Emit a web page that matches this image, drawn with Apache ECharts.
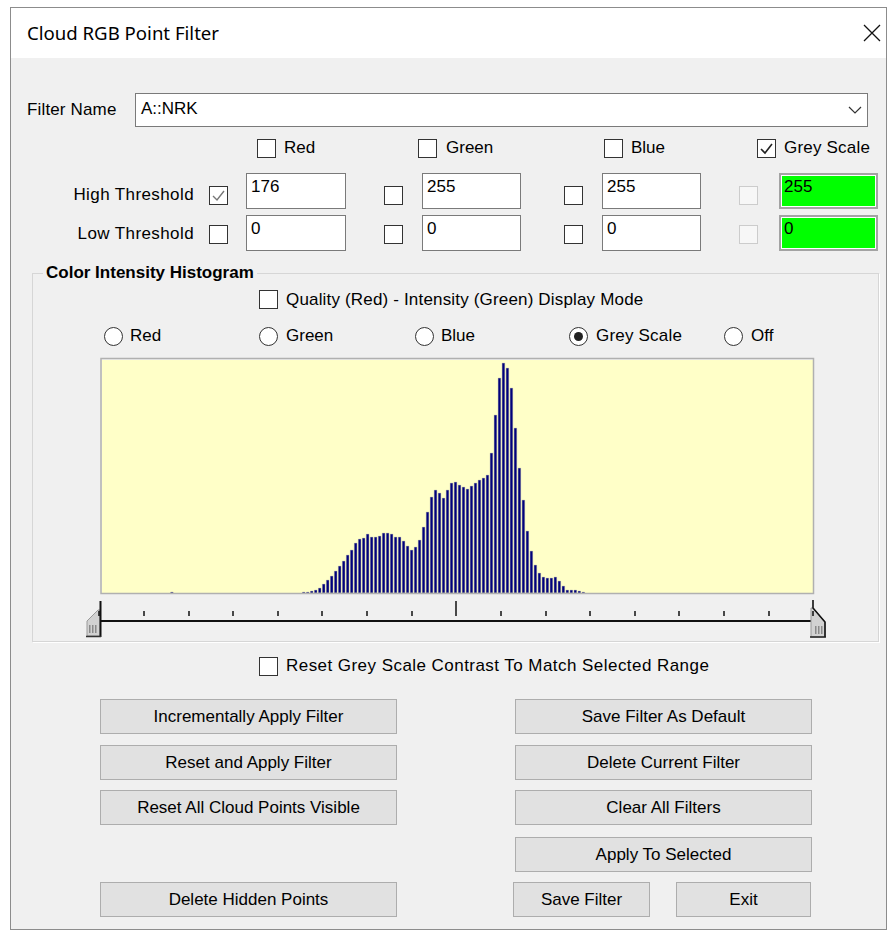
<!DOCTYPE html>
<html><head><meta charset="utf-8">
<script src="https://cdn.jsdelivr.net/npm/echarts/dist/echarts.min.js"></script>
<style>
html,body{margin:0;padding:0}
body{width:894px;height:934px;background:#fff;position:relative;overflow:hidden;font-family:'Liberation Sans',Arial,sans-serif;font-size:17px;color:#000}
.a{position:absolute;white-space:nowrap;line-height:20px}
.cb{position:absolute;width:17px;height:17px;border:1px solid #333;background:#fff}
.cb.dis{border-color:#ccc;background:#f7f7f7}
.cb svg{position:absolute;left:1px;top:1px}
.rd{position:absolute;width:17px;height:17px;border:1px solid #333;border-radius:50%;background:#fff}
.rd.on::after{content:'';position:absolute;left:4px;top:4px;width:9px;height:9px;border-radius:50%;background:#222}
.tb{position:absolute;height:34px;border:1px solid #7a7a7a;background:#fff;box-sizing:content-box}
.tb span{position:absolute;left:4px;top:3px;line-height:20px}
.tb.g{background:#00ff00;border:2px solid #a3a3a3;box-shadow:inset 0 0 0 1px #fff;height:32px}
.btn{position:absolute;background:#e1e1e1;border:1px solid #adadad;text-align:center;box-sizing:border-box;height:35px;line-height:33px}
#chart{position:absolute;left:0;top:0;width:894px;height:934px;z-index:5;pointer-events:none}
</style></head>
<body>
<div class="a" style="left:10px;top:7px;width:877px;height:923px;border:1px solid #8c8c8c;background:#f0f0f0;box-sizing:border-box"></div>
<div class="a" style="left:11px;top:8px;width:875px;height:50px;background:#fff"></div>
<div class="a" style="left:27px;top:21px;font-family:'Noto Sans',sans-serif;font-size:18.6px;line-height:24px">Cloud RGB Point Filter</div>
<svg class="a" style="left:863px;top:24px" width="18" height="18"><path d="M1 1L17 17M17 1L1 17" stroke="#111" stroke-width="1.3"/></svg>

<div class="a" style="left:27px;top:100px;letter-spacing:0.15px">Filter Name</div>
<div class="tb" style="left:135px;top:93px;width:731px;height:32px"><span style="left:5px;top:5px">A::NRK</span></div>
<svg class="a" style="left:848px;top:105px" width="14" height="10"><path d="M1 2L7 8L13 2" fill="none" stroke="#333" stroke-width="1.2"/></svg>

<div class="cb" style="left:257px;top:139px"></div><div class="a" style="left:284px;top:138px">Red</div>
<div class="cb" style="left:418px;top:139px"></div><div class="a" style="left:446px;top:138px">Green</div>
<div class="cb" style="left:604px;top:139px"></div><div class="a" style="left:631px;top:138px">Blue</div>
<div class="cb" style="left:757px;top:139px"><svg width="15" height="15"><path d="M2 8L6 12L13 3" fill="none" stroke="#222" stroke-width="1.6"/></svg></div><div class="a" style="left:784px;top:138px;letter-spacing:0.2px">Grey Scale</div>

<div class="a" style="left:44px;top:185px;width:150px;text-align:right;letter-spacing:0.4px">High Threshold</div>
<div class="a" style="left:44px;top:224px;width:150px;text-align:right;letter-spacing:0.4px">Low Threshold</div>

<div class="cb" style="left:209px;top:186px"><svg width="15" height="15"><path d="M2 8L6 12L13 3" fill="none" stroke="#777" stroke-width="1.4"/></svg></div>
<div class="cb" style="left:384px;top:186px"></div>
<div class="cb" style="left:564px;top:186px"></div>
<div class="cb dis" style="left:739px;top:186px"></div>
<div class="cb" style="left:209px;top:225px"></div>
<div class="cb" style="left:384px;top:225px"></div>
<div class="cb" style="left:564px;top:225px"></div>
<div class="cb dis" style="left:739px;top:225px"></div>

<div class="tb" style="left:246px;top:173px;width:98px"><span>176</span></div>
<div class="tb" style="left:422px;top:173px;width:97px"><span>255</span></div>
<div class="tb" style="left:602px;top:173px;width:97px"><span>255</span></div>
<div class="tb g" style="left:779px;top:173px;width:95px"><span style="left:3px;top:2px">255</span></div>
<div class="tb" style="left:246px;top:215px;width:98px"><span>0</span></div>
<div class="tb" style="left:422px;top:215px;width:97px"><span>0</span></div>
<div class="tb" style="left:602px;top:215px;width:97px"><span>0</span></div>
<div class="tb g" style="left:779px;top:215px;width:95px"><span style="left:3px;top:2px">0</span></div>

<div class="a" style="left:32px;top:273px;width:845px;height:367px;border:1px solid #d6d6d6;box-shadow:1px 1px 0 #fff"></div>
<div class="a" style="left:43px;top:263px;padding:0 3px;background:#f0f0f0;font-weight:bold">Color Intensity Histogram</div>

<div class="cb" style="left:259px;top:290px"></div><div class="a" style="left:286px;top:290px;letter-spacing:0.17px">Quality (Red) - Intensity (Green) Display Mode</div>

<div class="rd" style="left:104px;top:327px"></div><div class="a" style="left:130px;top:326px">Red</div>
<div class="rd" style="left:259px;top:327px"></div><div class="a" style="left:286px;top:326px">Green</div>
<div class="rd" style="left:415px;top:327px"></div><div class="a" style="left:441px;top:326px">Blue</div>
<div class="rd on" style="left:569px;top:327px"></div><div class="a" style="left:596px;top:326px;letter-spacing:0.2px">Grey Scale</div>
<div class="rd" style="left:724px;top:327px"></div><div class="a" style="left:751px;top:326px">Off</div>

<div class="cb" style="left:259px;top:657px"></div><div class="a" style="left:286px;top:656px;letter-spacing:0.45px">Reset Grey Scale Contrast To Match Selected Range</div>

<div class="btn" style="left:100px;top:699px;width:297px">Incrementally Apply Filter</div>
<div class="btn" style="left:100px;top:745px;width:297px">Reset and Apply Filter</div>
<div class="btn" style="left:100px;top:790px;width:297px">Reset All Cloud Points Visible</div>
<div class="btn" style="left:100px;top:882px;width:297px">Delete Hidden Points</div>
<div class="btn" style="left:515px;top:699px;width:297px">Save Filter As Default</div>
<div class="btn" style="left:515px;top:745px;width:297px">Delete Current Filter</div>
<div class="btn" style="left:515px;top:790px;width:297px">Clear All Filters</div>
<div class="btn" style="left:515px;top:837px;width:297px">Apply To Selected</div>
<div class="btn" style="left:513px;top:882px;width:137px">Save Filter</div>
<div class="btn" style="left:676px;top:882px;width:135px">Exit</div>

<div id="chart"></div>
<script>
// Histogram bins (display bins across the plot width)
const binTotal = 178;
// isolated low-intensity bin
const isolatedBins = [17];
const isolatedCounts = [1];
// main body of the histogram: first bin index and consecutive counts
const bodyStartBin = 50;
const bodyCounts = [
  1,1,2,3,5,9,13,17,22,27,
  32,38,43,50,54,55,59,56,56,57,
  60,60,59,56,56,52,47,43,46,53,
  66,81,96,103,100,95,103,110,111,108,
  106,104,107,110,113,115,118,140,178,215,
  230,225,205,165,125,93,62,42,28,20,
  16,15,15,16,12,7,3,3,3,2,
  1
];
const countMax = 233;
// slider scale (grey level) ticks
const scaleMin = 0, scaleMax = 256, scaleStep = 16, scaleMid = 128;

const binLabels = [];
const histData = [];
for (let i = 0; i < binTotal; i++) { binLabels.push(String(i)); histData.push(null); }
isolatedBins.forEach((b, i) => { histData[b] = isolatedCounts[i]; });
bodyCounts.forEach((c, i) => { histData[bodyStartBin + i] = c; });

const chart = echarts.init(document.getElementById('chart'), null, {renderer: 'canvas', width: 894, height: 934});
chart.setOption({
  animation: false,
  grid: [
    {left: 102, top: 360, width: 711, height: 233, show: true, backgroundColor: '#FFFFC8', borderWidth: 0},
    {left: 99, top: 601, width: 714, height: 10, show: false}
  ],
  xAxis: [
    {type: 'category', gridIndex: 0, data: binLabels, show: false, boundaryGap: true},
    {type: 'value', gridIndex: 1, min: scaleMin, max: scaleMax, interval: scaleStep, position: 'top',
     axisLine: {show: false}, axisLabel: {show: false}, splitLine: {show: false},
     axisTick: {show: true, inside: true, length: 5, lineStyle: {color: '#111', width: 1.5}}}
  ],
  yAxis: [
    {type: 'value', gridIndex: 0, min: 0, max: countMax, show: false},
    {type: 'value', gridIndex: 1, min: 0, max: 1, show: false}
  ],
  series: [{
    type: 'bar', xAxisIndex: 0, yAxisIndex: 0, data: histData, barWidth: 2.8, silent: true,
    itemStyle: {color: '#00007c', borderColor: '#7a7a9a', borderWidth: 0.3}
  }]
});

const midX = chart.convertToPixel({xAxisIndex: 1}, scaleMid);
const x0 = chart.convertToPixel({xAxisIndex: 1}, scaleMin);
const x1 = chart.convertToPixel({xAxisIndex: 1}, scaleMax);
chart.setOption({
  graphic: [
    {type: 'rect', shape: {x: 101, y: 358.5, width: 712.5, height: 235}, style: {fill: 'none', stroke: '#b0b0b0', lineWidth: 1.5}, z: 10},
    {type: 'line', shape: {x1: midX, y1: 601, x2: midX, y2: 611}, style: {stroke: '#111', lineWidth: 1.5}},
    {type: 'line', shape: {x1: x0 + 1, y1: 621, x2: x1, y2: 621}, style: {stroke: '#111', lineWidth: 2}},
    // left thumb
    {type: 'polygon', shape: {points: [[87, 621], [98, 610], [100, 610], [100, 636], [87, 636]]}, style: {fill: '#d2d2d2', stroke: '#9a9a9a', lineWidth: 1}},
    {type: 'line', shape: {x1: 100.5, y1: 601, x2: 100.5, y2: 637}, style: {stroke: '#111', lineWidth: 2}},
    {type: 'line', shape: {x1: 86, y1: 636.5, x2: 101, y2: 636.5}, style: {stroke: '#333', lineWidth: 1.5}},
    {type: 'rect', shape: {x: 89, y: 625, width: 1.5, height: 8}, style: {fill: '#8a8a8a'}},
    {type: 'rect', shape: {x: 92, y: 625, width: 1.5, height: 8}, style: {fill: '#8a8a8a'}},
    {type: 'rect', shape: {x: 95, y: 625, width: 1.5, height: 8}, style: {fill: '#8a8a8a'}},
    // right thumb
    {type: 'polygon', shape: {points: [[811, 608], [813, 608], [825, 622], [825, 637], [811, 637]]}, style: {fill: '#d2d2d2', stroke: '#9a9a9a', lineWidth: 1}},
    {type: 'polyline', shape: {points: [[813, 600], [813, 608], [825, 622], [825, 637]]}, style: {stroke: '#111', lineWidth: 1.6, fill: 'none'}},
    {type: 'line', shape: {x1: 810, y1: 637, x2: 826, y2: 637}, style: {stroke: '#222', lineWidth: 1.5}},
    {type: 'rect', shape: {x: 815, y: 626, width: 1.5, height: 8}, style: {fill: '#8a8a8a'}},
    {type: 'rect', shape: {x: 818, y: 626, width: 1.5, height: 8}, style: {fill: '#8a8a8a'}},
    {type: 'rect', shape: {x: 821, y: 626, width: 1.5, height: 8}, style: {fill: '#8a8a8a'}}
  ]
});
</script>
</body></html>
